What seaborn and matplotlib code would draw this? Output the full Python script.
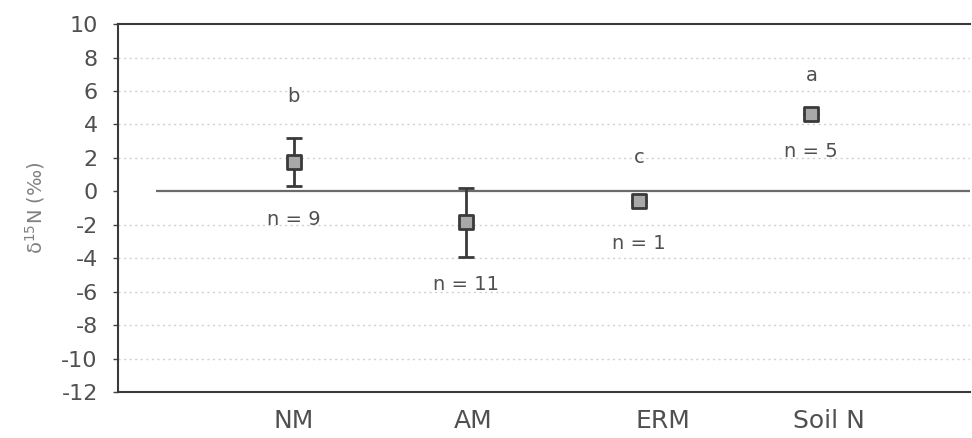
import matplotlib
matplotlib.use("Agg")
import matplotlib.pyplot as plt
import seaborn as sns
import pandas as pd

# delta 15N by mycorrhizal type, with soil N for reference
categories = ["NM", "AM", "ERM", "Soil N"]
means = [1.75, -1.85, -0.6, 4.6]
errors = [1.45, 2.05, 0.0, 0.0]
sig_letters = ["b", "", "c", "a"]
n_labels = ["n = 9", "n = 11", "n = 1", "n = 5"]
letter_y = [5.7, None, 2.0, 6.9]
n_label_y = [-1.7, -5.6, -3.1, 2.4]
yticks = [10, 8, 6, 4, 2, 0, -2, -4, -6, -8, -10, -12]

sns.set_theme(style="white")
plt.rcParams["font.family"] = ["DejaVu Sans"]

df = pd.DataFrame({"group": categories, "mean": means, "err": errors})
df["pos"] = range(len(df))

fig = plt.figure(figsize=(9.72, 4.38), dpi=100)
ax = fig.add_axes([0.1214, 0.105, 0.8766, 0.84])

# dotted horizontal grid
for y in yticks[1:-1]:
    if y != 0:
        ax.axhline(y, color="#d0d0d0", lw=1.0, ls=(0, (1.5, 2.5)), zorder=0)
ax.hlines(0, -0.8, 3.92, color="#6a6a6a", lw=1.6, zorder=1)

# error bars, then the square markers
ax.errorbar(df["pos"], df["mean"], yerr=df["err"], fmt="none",
            ecolor="#3a3a3a", elinewidth=2.0, capsize=6, capthick=2.0, zorder=2)
sns.scatterplot(data=df, x="pos", y="mean", marker="s", s=105,
                color="#a8a8a8", edgecolor="#3a3a3a", linewidth=2.0,
                ax=ax, zorder=3, legend=False)

text_kw = dict(ha="center", va="center", fontsize=14, color="#505050")
for i, (letter, ly) in enumerate(zip(sig_letters, letter_y)):
    if letter:
        ax.text(i, ly, letter, **text_kw)
for i, (lab, ny) in enumerate(zip(n_labels, n_label_y)):
    ax.text(i, ny, lab, **text_kw)

ax.set_xlim(-1.02, 3.92)
ax.set_ylim(-12, 10)
ax.set_yticks(yticks)
ax.set_yticklabels([str(t) for t in yticks])
# category names sit slightly right of their markers
label_shift = [0.0, 0.04, 0.14, 0.1]
ax.set_xticks([i + s for i, s in enumerate(label_shift)])
ax.set_xticklabels(categories)
ax.set_xlabel("")
ax.set_ylabel("δ$^{15}$N (‰)", fontsize=14, color="#808080", labelpad=10)

ax.tick_params(axis="y", which="major", left=True, length=3.5, width=1,
               color="#444444", labelsize=16, labelcolor="#505050", pad=11)
ax.tick_params(axis="x", bottom=False, labelsize=18, labelcolor="#505050", pad=6)

for side in ["left", "bottom"]:
    ax.spines[side].set_color("#3a3a3a")
    ax.spines[side].set_linewidth(1.5)
ax.spines["top"].set_color("#3a3a3a")
ax.spines["top"].set_linewidth(1.5)
ax.spines["top"].set_linestyle((0, (2, 1)))
ax.spines["right"].set_visible(False)

fig.savefig("out.png", dpi=100)
